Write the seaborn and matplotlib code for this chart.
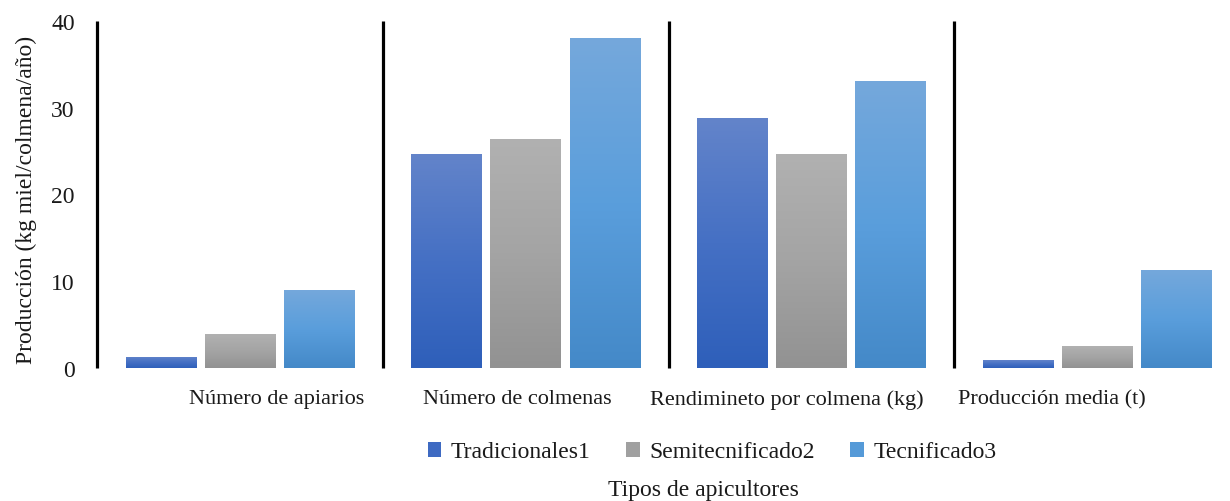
import numpy as np
import pandas as pd
import matplotlib
matplotlib.use("Agg")
import matplotlib.pyplot as plt
import seaborn as sns
from matplotlib.colors import LinearSegmentedColormap
from matplotlib.patches import Patch

categories = ["Número de apiarios", "Número de colmenas",
              "Rendimineto por colmena (kg)", "Producción media (t)"]
series = ["Tradicionales1", "Semitecnificado2", "Tecnificado3"]
tradicionales = [1.3, 24.7, 28.8, 0.9]
semitecnificado = [3.9, 26.4, 24.7, 2.5]
tecnificado = [9.0, 38.0, 33.1, 11.3]
y_ticks = [0, 10, 20, 30, 40]

values = [tradicionales, semitecnificado, tecnificado]
df = pd.DataFrame({
    "cat": [c for s in series for c in categories],
    "serie": [s for s in series for c in categories],
    "val": [v for vals in values for v in vals],
})

# gradient stops: bottom, middle, top
grads = {
    "Tradicionales1": ["#2E5FBA", "#4570C4", "#6384CA"],
    "Semitecnificado2": ["#929292", "#A4A4A4", "#B1B1B1"],
    "Tecnificado3": ["#4489C8", "#5A9EDC", "#75A8DB"],
}
legend_cols = {"Tradicionales1": "#3E6AC2", "Semitecnificado2": "#A0A0A0",
               "Tecnificado3": "#559AD8"}

sns.set_theme(style="white")
plt.rcParams["font.family"] = ["Liberation Serif", "DejaVu Serif"]
TXT = "#1a1a1a"

W, H = 1230, 502
fig = plt.figure(figsize=(W / 100, H / 100), dpi=100)
left, right, top, bottom = 97, 1240, 22, 369
ax = fig.add_axes([left / W, (H - bottom) / H, (right - left) / W, (bottom - top) / H])

palette = {s: legend_cols[s] for s in series}
sns.barplot(data=df, x="cat", y="val", hue="serie", order=categories,
            hue_order=series, palette=palette, width=0.83, gap=0.11,
            ax=ax, legend=False, errorbar=None)

# replace flat fills with vertical gradients
for cont, s in zip(ax.containers, series):
    cmap = LinearSegmentedColormap.from_list(s, grads[s])
    grad = np.linspace(0, 1, 256).reshape(-1, 1)
    for p in cont.patches:
        x0, y0 = p.get_x(), p.get_y()
        w, h = p.get_width(), p.get_height()
        im = ax.imshow(grad, extent=[x0, x0 + w, y0, y0 + h], origin="lower",
                       aspect="auto", cmap=cmap, zorder=2, interpolation="bicubic")
        im.set_clip_path(p)
        p.set_facecolor("none")
        p.set_edgecolor("none")

ax.set_xlim(-0.5, 3.5)
ax.set_ylim(0, 40)
for sp in ax.spines.values():
    sp.set_visible(False)
ax.vlines([-0.5, 0.5, 1.5, 2.5], 0, 40, color="black", lw=2.3, zorder=3, clip_on=False)

ax.set_yticks(y_ticks)
ax.set_yticklabels([str(t) for t in y_ticks], fontsize=17, color=TXT)
ax.tick_params(axis="y", length=0, pad=16)
ax.set_xticks([0.13, 0.97, 1.913, 2.84])
ax.set_xticklabels(categories, fontsize=16, color=TXT)
ax.tick_params(axis="x", length=0, pad=15)
ax.set_xlabel("")
ax.set_ylabel("")
ax.grid(False)

fig.text(26 / W, 1 - 200 / H, "Producción (kg miel/colmena/año)", rotation=90,
         ha="center", va="center", fontsize=17, color=TXT)
fig.text(703 / W, 1 - 491 / H, "Tipos de apicultores", ha="center", va="center",
         fontsize=17, color=TXT)

handles = [Patch(facecolor=legend_cols[s], edgecolor="none", label=s) for s in series]
fig.legend(handles=handles, loc="center", bbox_to_anchor=(712 / W, 1 - 453 / H),
           ncol=3, frameon=False, fontsize=17, handlelength=0.58, handleheight=0.58,
           handletextpad=0.4, columnspacing=1.5, labelcolor=TXT)

fig.savefig("out.png", dpi=100)
